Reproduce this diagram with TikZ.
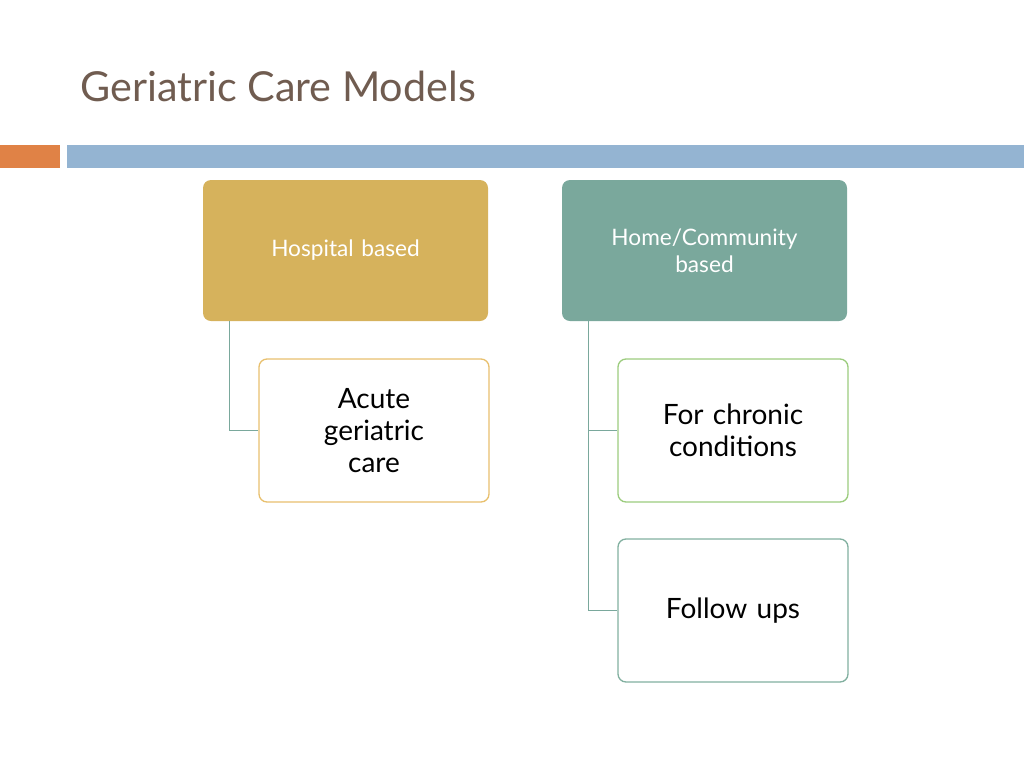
\documentclass[tikz,border=0pt]{standalone}
\usepackage{fontspec}
\setmainfont{Lato}
\definecolor{titlebrown}{RGB}{112,92,80}
\definecolor{barorange}{RGB}{224,130,70}
\definecolor{barblue}{RGB}{148,180,210}
\definecolor{hospfill}{RGB}{214,178,92}
\definecolor{homefill}{RGB}{122,168,156}
\definecolor{acuteline}{RGB}{232,192,110}
\definecolor{chronline}{RGB}{156,204,126}
\definecolor{followline}{RGB}{130,176,160}
\begin{document}
\begin{tikzpicture}[x=0.75pt,y=-0.75pt,
  parent/.style={rounded corners=6pt,minimum width=213.75pt,minimum height=105.75pt,
    text width=200pt,align=center,text=white,font=\fontsize{17}{20}\selectfont},
  child/.style={rounded corners=6pt,draw,line width=1pt,fill=white,minimum width=172.5pt,
    minimum height=107.25pt,text width=160pt,align=center,font=\fontsize{21}{24}\selectfont},
  link/.style={draw=homefill,line width=1pt}]
\useasboundingbox (0,0) rectangle (1024,768);
\node[anchor=base west,text=titlebrown,font=\fontsize{31}{36}\selectfont,inner sep=0pt] (title) at (80,101) {Geriatric Care Models};
\fill[barorange] (0,145) rectangle (60,168);
\fill[barblue] (67,145) rectangle (1024,168);
\node[parent,fill=hospfill] (hosp) at (345.5,250.5) {Hospital based};
\node[parent,fill=homefill] (home) at (704.5,250.5) {Home/Community\\based};
\node[child,draw=acuteline] (acute) at (374,430.5) {Acute\\geriatric\\care};
\node[child,draw=chronline] (chron) at (733,430.5) {For chronic\\conditions};
\node[child,draw=followline] (follow) at (733,610.5) {Follow ups};
\draw[link] (hosp.south west) ++(27,0) |- (acute.west);
\draw[link] (home.south west) ++(27,0) |- (chron.west);
\draw[link] (home.south west) ++(27,0) |- (follow.west);
\end{tikzpicture}
\end{document}
